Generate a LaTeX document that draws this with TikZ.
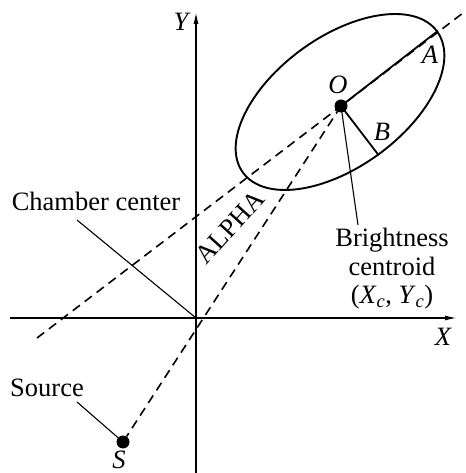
\documentclass[tikz,border=0pt]{standalone}
\usepackage{fontspec}
\setmainfont{Liberation Serif}
\usetikzlibrary{arrows.meta,positioning,shapes.geometric}
\tikzset{
axis/.style={-{Latex[length=12pt,width=5pt]},line width=1.4pt},
guide/.style={dash pattern=on 9pt off 6pt,line width=1.6pt},
leader/.style={line width=1.1pt},
radius line/.style={line width=1.8pt},
spot/.style={circle,fill,inner sep=0pt,minimum size=13pt},
lbl/.style={font=\fontsize{26.5}{28.5}\selectfont},
mlbl/.style={font=\fontsize{26.5}{28.5}\selectfont\itshape}
}

\begin{document}
\begin{tikzpicture}[x=1pt,y=1pt]
\useasboundingbox (0,0) rectangle (465,473);
% axes
\coordinate (orig) at (196,155);
\coordinate (xl) at (10,155);\coordinate (xr) at (457,155);
\coordinate (yb) at (196,0);\coordinate (yt) at (196,461);
\draw[axis](xl)--(xr);\draw[axis](yb)--(yt);
\node[mlbl](xlab) at (443,136){X};
\node[mlbl](ylab) at (181,451){Y};
% ellipse and centroid
\node[draw,ellipse,rotate=36,inner sep=0pt,minimum width=240pt,minimum height=130pt,line width=1.9pt](blob) at (340,371){};
\node[spot](O) at (341,367){};
\node[spot](S) at (123,31){};
\node[mlbl](olab) at (338,388){O};
\node[mlbl](alab) at (430,418){A};
\node[mlbl](blab) at (382,341){B};
\node[mlbl](slab) at (119,13){S};
% dashed lines
\coordinate (dl) at (37,135);\coordinate (ur) at (463,460);
\draw[guide](dl)--(ur);
\draw[guide](O.center)--(S);
\draw[radius line](O.center)--(blob.east);\draw[radius line](O.center)--(blob.south);
% labels
\node[lbl,rotate=48](alpha) at (230,246){ALPHA};
\node[lbl](cc) at (96,272){Chamber center};
\coordinate (cctip) at (77,253);
\draw[leader](cctip)--(orig);
\node[lbl](src) at (47,85){Source};
\coordinate (srctip) at (77,71);
\draw[leader](srctip)--(S);
\node[lbl,align=center](bc) at (392,204){Brightness\\centroid\\(\textit{X}\textsubscript{\textit{c}}, \textit{Y}\textsubscript{\textit{c}})};
\draw[leader](O.center)--([xshift=-34pt]bc.north);
\end{tikzpicture}
\end{document}
